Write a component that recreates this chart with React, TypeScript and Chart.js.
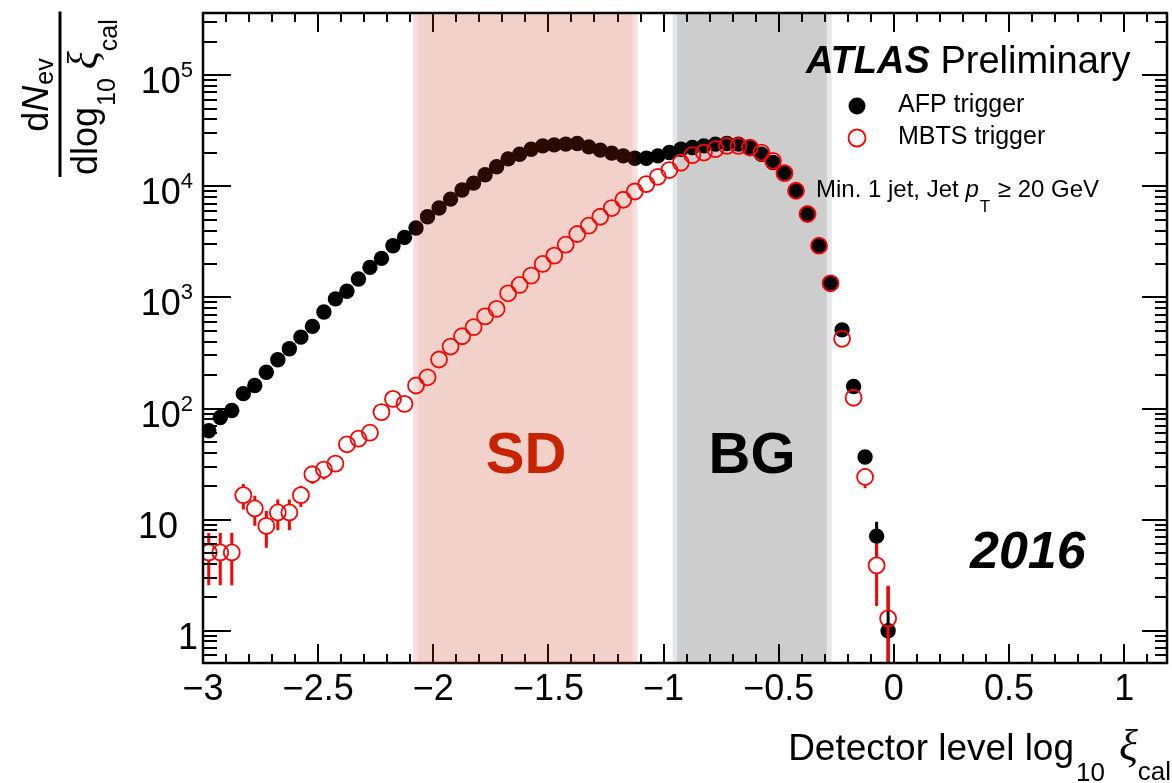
import React, { useEffect, useRef } from 'react';
import { Chart, registerables } from 'chart.js';

Chart.register(...registerables);

// ---- data ----
const binCenters = [
  -2.975, -2.925, -2.875, -2.825, -2.775, -2.725, -2.675, -2.625, -2.575, -2.525,
  -2.475, -2.425, -2.375, -2.325, -2.275, -2.225, -2.175, -2.125, -2.075, -2.025,
  -1.975, -1.925, -1.875, -1.825, -1.775, -1.725, -1.675, -1.625, -1.575, -1.525,
  -1.475, -1.425, -1.375, -1.325, -1.275, -1.225, -1.175, -1.125, -1.075, -1.025,
  -0.975, -0.925, -0.875, -0.825, -0.775, -0.725, -0.675, -0.625, -0.575, -0.525,
  -0.475, -0.425, -0.375, -0.325, -0.275, -0.225, -0.175, -0.125, -0.075, -0.025,
];

const afpValues = [
  63, 83, 96, 136, 161, 212, 275, 345, 439, 548,
  738, 970, 1135, 1466, 1864, 2244, 2920, 3466, 4210, 5320,
  6370, 7670, 9250, 10690, 12700, 15000, 17660, 19460, 21580, 23100,
  23600, 23950, 24270, 22650, 21150, 19870, 18790, 17910, 17910, 18790,
  20130, 21580, 22330, 23100, 23950, 24270, 23950, 22330, 19460, 16370,
  13300, 9120, 5630, 2920, 1340, 510, 158, 36.6, 7.1, 1.0,
];

const afpErrors = [
  0, 0, 0, 0, 0, 0, 0, 0, 0, 0,
  0, 0, 0, 0, 0, 0, 0, 0, 0, 0,
  0, 0, 0, 0, 0, 0, 0, 0, 0, 0,
  0, 0, 0, 0, 0, 0, 0, 0, 0, 0,
  0, 0, 0, 0, 0, 0, 0, 0, 0, 0,
  0, 0, 0, 0, 0, 0, 0, 0, 2.45, 1.5,
];

const mbtsValues = [
  5.06, 5.06, 5.06, 16.6, 12.6, 8.78, 11.6, 11.6, 16.6, 25.6,
  28.2, 31.9, 47.6, 53.5, 60.6, 92.8, 122, 110, 161, 191,
  276, 361, 447, 539, 675, 788, 1089, 1295, 1570, 2000,
  2375, 2980, 3720, 4420, 5320, 6370, 7570, 8980, 10470, 12170,
  14000, 16300, 19060, 20130, 21580, 23100, 23100, 22330, 20130, 16950,
  13130, 9120, 5630, 2920, 1340, 424, 125, 24.2, 3.87, 1.29,
];

const mbtsErrors = [
  2.5, 2.5, 2.5, 4.3, 3.8, 3.2, 3.6, 3.6, 3.6, 4.6,
  5.2, 5.0, 6.0, 6.5, 7.0, 9, 10, 10, 0, 0,
  0, 0, 0, 0, 0, 0, 0, 0, 0, 0,
  0, 0, 0, 0, 0, 0, 0, 0, 0, 0,
  0, 0, 0, 0, 0, 0, 0, 0, 0, 0,
  0, 0, 0, 0, 0, 0, 0, 5, 2.2, 1.25,
];

const xMajorTicks = [-3, -2.5, -2, -1.5, -1, -0.5, 0, 0.5, 1];
const xTickLabels = ['\u22123', '\u22122.5', '\u22122', '\u22121.5', '\u22121', '\u22120.5', '0', '0.5', '1'];
const xMinorTicks = [
  -2.9, -2.8, -2.7, -2.6, -2.4, -2.3, -2.2, -2.1, -1.9, -1.8, -1.7, -1.6,
  -1.4, -1.3, -1.2, -1.1, -0.9, -0.8, -0.7, -0.6, -0.4, -0.3, -0.2, -0.1,
  0.1, 0.2, 0.3, 0.4, 0.6, 0.7, 0.8, 0.9, 1.1,
];
const yMajorTicks = [1, 10, 100, 1000, 10000, 100000];
const yTickLabels = ['1', '10', '10|2', '10|3', '10|4', '10|5'];
const yMinorTicks = [
  0.6, 0.7, 0.8, 0.9,
  2, 3, 4, 5, 6, 7, 8, 9,
  20, 30, 40, 50, 60, 70, 80, 90,
  200, 300, 400, 500, 600, 700, 800, 900,
  2000, 3000, 4000, 5000, 6000, 7000, 8000, 9000,
  20000, 30000, 40000, 50000, 60000, 70000, 80000, 90000,
  200000, 300000,
];

const sdBand = [-2.087, -1.114];
const bgBand = [-0.961, -0.27];

const FONT = "'Liberation Sans', Arial, Helvetica, sans-serif";
const SERIF = "'Liberation Serif', 'DejaVu Serif', serif";

type Piece = { t: string; font: string; dy?: number; dx?: number };

function piecesWidth(ctx: CanvasRenderingContext2D, pieces: Piece[]) {
  let w = 0;
  for (const p of pieces) {
    ctx.font = p.font;
    w += ctx.measureText(p.t).width + (p.dx || 0);
  }
  return w;
}

function drawPieces(ctx: CanvasRenderingContext2D, pieces: Piece[], x: number, y: number) {
  let cx = x;
  for (const p of pieces) {
    ctx.font = p.font;
    cx += p.dx || 0;
    ctx.fillText(p.t, cx, y + (p.dy || 0));
    cx += ctx.measureText(p.t).width;
  }
}

function drawErrorBars(
  chart: any,
  values: number[],
  errors: number[],
  color: string,
  gap: number,
) {
  const { ctx, chartArea: a } = chart;
  const xs = chart.scales.x;
  const ys = chart.scales.y;
  ctx.save();
  ctx.beginPath();
  ctx.rect(a.left, a.top, a.right - a.left, a.bottom - a.top);
  ctx.clip();
  ctx.strokeStyle = color;
  ctx.lineWidth = 3;
  for (let i = 0; i < values.length; i++) {
    const e = errors[i];
    if (!e) continue;
    const px = xs.getPixelForValue(binCenters[i]);
    const py = ys.getPixelForValue(values[i]);
    const top = ys.getPixelForValue(values[i] + e);
    const lo = values[i] - e;
    const bottom = lo > 0 ? ys.getPixelForValue(lo) : a.bottom + 5;
    ctx.beginPath();
    if (top < py - gap) {
      ctx.moveTo(px, top);
      ctx.lineTo(px, py - gap);
    }
    if (bottom > py + gap) {
      ctx.moveTo(px, py + gap);
      ctx.lineTo(px, bottom);
    }
    ctx.stroke();
  }
  ctx.restore();
}

const decorPlugin = {
  id: 'atlasDecor',
  beforeDatasetsDraw(chart: any) {
    const { ctx, chartArea: a } = chart;
    const xs = chart.scales.x;
    const g0 = xs.getPixelForValue(bgBand[0]);
    const g1 = xs.getPixelForValue(bgBand[1]);
    ctx.save();
    ctx.fillStyle = '#e6e7e9';
    ctx.fillRect(g0, a.top, g1 - g0, a.bottom - a.top);
    ctx.fillStyle = '#cdcdcd';
    ctx.fillRect(g0 + 4.5, a.top, g1 - g0 - 9.5, a.bottom - a.top);
    ctx.restore();
  },
  beforeDatasetDraw(chart: any, args: any) {
    if (args.index === 0) drawErrorBars(chart, afpValues, afpErrors, '#000000', 7);
    if (args.index === 1) drawErrorBars(chart, mbtsValues, mbtsErrors, '#ff0000', 8);
  },
  afterDatasetsDraw(chart: any) {
    const { ctx, chartArea: a } = chart;
    const xs = chart.scales.x;
    const ys = chart.scales.y;
    ctx.save();

    // ticks
    ctx.strokeStyle = '#000';
    ctx.lineWidth = 2;
    ctx.beginPath();
    for (const v of xMajorTicks) {
      const px = Math.round(xs.getPixelForValue(v));
      ctx.moveTo(px, a.bottom);
      ctx.lineTo(px, a.bottom - 19);
      ctx.moveTo(px, a.top);
      ctx.lineTo(px, a.top + 19);
    }
    for (const v of xMinorTicks) {
      const px = Math.round(xs.getPixelForValue(v));
      ctx.moveTo(px, a.bottom);
      ctx.lineTo(px, a.bottom - 9);
      ctx.moveTo(px, a.top);
      ctx.lineTo(px, a.top + 9);
    }
    for (const v of yMajorTicks) {
      const py = Math.round(ys.getPixelForValue(v));
      ctx.moveTo(a.left, py);
      ctx.lineTo(a.left + 28, py);
      ctx.moveTo(a.right, py);
      ctx.lineTo(a.right - 25, py);
    }
    for (const v of yMinorTicks) {
      const py = Math.round(ys.getPixelForValue(v));
      ctx.moveTo(a.left, py);
      ctx.lineTo(a.left + 14, py);
      ctx.moveTo(a.right, py);
      ctx.lineTo(a.right - 12, py);
    }
    ctx.stroke();

    // frame
    ctx.lineWidth = 2.5;
    ctx.strokeRect(a.left, a.top, a.right - a.left, a.bottom - a.top);

    // SD band overlay (translucent, over points and axis)
    const s0 = xs.getPixelForValue(sdBand[0]);
    const s1 = xs.getPixelForValue(sdBand[1]);
    ctx.fillStyle = 'rgba(215,28,28,0.15)';
    ctx.fillRect(s0, a.top + 1, 5, a.bottom - a.top);
    ctx.fillRect(s1 - 5, a.top + 1, 5, a.bottom - a.top);
    ctx.fillStyle = 'rgba(194,42,14,0.215)';
    ctx.fillRect(s0 + 5, a.top + 1, s1 - s0 - 10, a.bottom - a.top);

    // SD / BG labels
    ctx.textAlign = 'center';
    ctx.textBaseline = 'alphabetic';
    ctx.font = `bold 58px ${FONT}`;
    ctx.fillStyle = '#c82300';
    ctx.fillText('SD', 526, 473);
    ctx.fillStyle = '#000';
    ctx.fillText('BG', 752, 473);

    // x tick labels
    ctx.font = `36px ${FONT}`;
    ctx.fillStyle = '#000';
    xMajorTicks.forEach((v, i) => {
      ctx.fillText(xTickLabels[i], xs.getPixelForValue(v), 700);
    });

    // y tick labels
    ctx.textAlign = 'left';
    yMajorTicks.forEach((v, i) => {
      const py = ys.getPixelForValue(v);
      const lab = yTickLabels[i];
      if (lab.includes('|')) {
        const [base, exp] = lab.split('|');
        ctx.font = `22px ${FONT}`;
        const ew = ctx.measureText(exp).width;
        ctx.font = `36px ${FONT}`;
        const bw = ctx.measureText(base).width;
        const x0 = 193 - ew - bw;
        ctx.fillText(base, x0, py + 18);
        ctx.font = `22px ${FONT}`;
        ctx.fillText(exp, x0 + bw, py + 2);
      } else {
        ctx.font = `36px ${FONT}`;
        const w = ctx.measureText(lab).width;
        const right = lab === '1' ? 198 : 178;
        ctx.fillText(lab, right - w, py + 18);
      }
    });

    // x axis title (right aligned)
    const xTitle: Piece[] = [
      { t: 'Detector level log', font: `37px ${FONT}` },
      { t: '10', font: `26px ${FONT}`, dy: 21, dx: 2 },
      { t: '\u03BE', font: `italic 44px ${SERIF}`, dx: 14 },
      { t: 'cal', font: `26px ${FONT}`, dy: 20, dx: 0 },
    ];
    const xtw = piecesWidth(ctx, xTitle);
    drawPieces(ctx, xTitle, 1171 - xtw, 760);

    // y axis title: fraction, rotated
    ctx.save();
    ctx.rotate(-Math.PI / 2);
    const num: Piece[] = [
      { t: 'd', font: `36px ${FONT}` },
      { t: 'N', font: `italic 36px ${FONT}` },
      { t: 'ev', font: `25px ${FONT}`, dy: 5, dx: 1 },
    ];
    drawPieces(ctx, num, -131.7, 48.3);
    const den: Piece[] = [
      { t: 'dlog', font: `36px ${FONT}` },
      { t: '10', font: `25px ${FONT}`, dy: 18, dx: 1 },
      { t: '\u03BE', font: `italic 42px ${SERIF}`, dx: 9 },
      { t: 'cal', font: `25px ${FONT}`, dy: 20 },
    ];
    drawPieces(ctx, den, -175, 96.7);
    ctx.restore();
    ctx.lineWidth = 3;
    ctx.beginPath();
    ctx.moveTo(60, 11.5);
    ctx.lineTo(60, 177);
    ctx.stroke();

    // ATLAS Preliminary
    ctx.textAlign = 'left';
    drawPieces(ctx, [
      { t: 'ATLAS', font: `italic bold 38px ${FONT}` },
      { t: ' Preliminary', font: `38px ${FONT}` },
    ], 806, 73);

    // legend
    ctx.fillStyle = '#000';
    ctx.beginPath();
    ctx.arc(857, 106, 8.5, 0, Math.PI * 2);
    ctx.fill();
    ctx.strokeStyle = '#ff0000';
    ctx.lineWidth = 1.8;
    ctx.beginPath();
    ctx.arc(857, 138, 8.5, 0, Math.PI * 2);
    ctx.stroke();
    ctx.font = `25px ${FONT}`;
    ctx.fillText('AFP trigger', 898, 112);
    ctx.fillText('MBTS trigger', 898, 143.5);

    // selection text
    drawPieces(ctx, [
      { t: 'Min. 1 jet, Jet ', font: `24px ${FONT}` },
      { t: 'p', font: `italic 24px ${FONT}` },
      { t: 'T', font: `17px ${FONT}`, dy: 15, dx: 1 },
      { t: ' \u2265 20 GeV', font: `24px ${FONT}`, dx: 1 },
    ], 816, 197);

    // 2016
    ctx.font = `italic bold 52px ${FONT}`;
    ctx.fillText('2016', 970, 568);

    ctx.restore();
  },
};

export default function App() {
  const canvasRef = useRef<HTMLCanvasElement | null>(null);

  useEffect(() => {
    const canvas = canvasRef.current;
    if (!canvas) return;
    const chart = new Chart(canvas, {
      type: 'scatter',
      data: {
        datasets: [
          {
            label: 'AFP trigger',
            data: binCenters.map((x, i) => ({ x, y: afpValues[i] })),
            order: 2,
            pointStyle: 'circle',
            pointRadius: 7.7,
            pointHoverRadius: 7.7,
            pointBackgroundColor: '#000000',
            pointBorderColor: '#000000',
            pointBorderWidth: 0,
            showLine: false,
          },
          {
            label: 'MBTS trigger',
            data: binCenters.map((x, i) => ({ x, y: mbtsValues[i] })),
            order: 1,
            pointStyle: 'circle',
            pointRadius: 8,
            pointHoverRadius: 8,
            pointBackgroundColor: 'rgba(0,0,0,0)',
            pointBorderColor: '#ff0000',
            pointBorderWidth: 1.8,
            showLine: false,
          },
        ],
      },
      options: {
        responsive: false,
        animation: false,
        devicePixelRatio: 1,
        events: [],
        layout: { autoPadding: false, padding: { top: 13, right: 5, left: 0, bottom: 0 } },
        plugins: { legend: { display: false }, tooltip: { enabled: false } },
        scales: {
          x: {
            type: 'linear',
            min: -3,
            max: 1.186,
            grid: { display: false },
            border: { display: false },
            ticks: { display: false },
            afterFit: (s: any) => { s.height = 120; },
          },
          y: {
            type: 'logarithmic',
            min: 0.512,
            max: 363000,
            grid: { display: false },
            border: { display: false },
            ticks: { display: false },
            afterFit: (s: any) => { s.width = 203; },
          },
        },
      } as any,
      plugins: [decorPlugin as any],
    });
    return () => chart.destroy();
  }, []);

  return (
    <div style={{ position: 'fixed', left: 0, top: 0, width: 1172, height: 783, background: '#fff' }}>
      <canvas ref={canvasRef} width={1172} height={783} style={{ display: 'block' }} />
    </div>
  );
}
